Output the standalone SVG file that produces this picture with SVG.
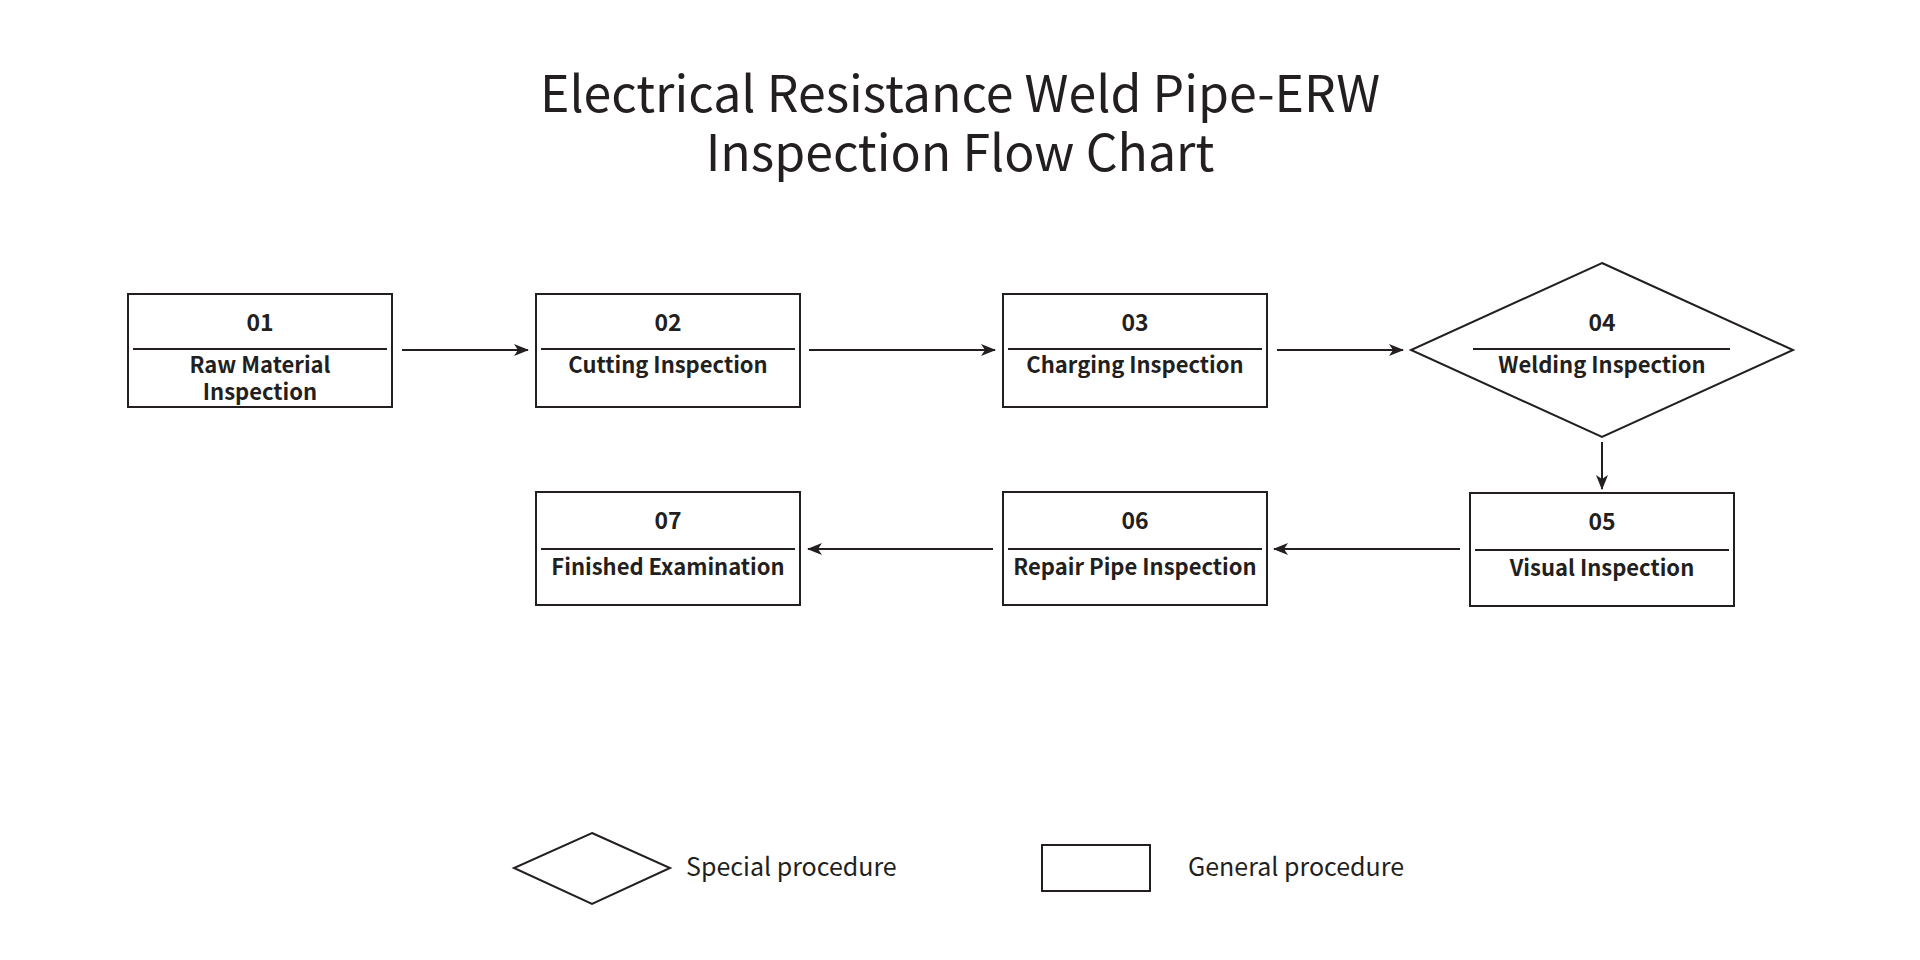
<svg xmlns="http://www.w3.org/2000/svg" width="1920" height="960" viewBox="0 0 1920 960">
<defs>
<marker id="arr" viewBox="0 0 15 12" refX="14" refY="6" markerWidth="15" markerHeight="12" markerUnits="userSpaceOnUse" orient="auto">
<path d="M0,0 L15,6 L0,12 L4,6 Z" fill="#231f20"/>
</marker>
<style>
.box{fill:#fff;stroke:#231f20;stroke-width:2}
.div{stroke:#231f20;stroke-width:2}
.num{font-family:"Noto Sans CJK SC","Noto Sans",sans-serif;font-size:23px;font-weight:700;fill:#231f20;text-anchor:middle}
.lbl{font-family:"Noto Sans CJK SC","Noto Sans",sans-serif;font-size:22px;font-weight:700;fill:#231f20;text-anchor:middle}
.ttl{font-family:"Noto Sans CJK SC","Noto Sans",sans-serif;font-size:50px;font-weight:400;fill:#231f20;text-anchor:middle}
.leg{font-family:"Noto Sans CJK SC","Noto Sans",sans-serif;font-size:25px;font-weight:400;fill:#231f20}
.con{stroke:#231f20;stroke-width:2;fill:none;marker-end:url(#arr)}
</style>
</defs>
<rect width="1920" height="960" fill="#fff"/>
<g id="title">
<text class="ttl" x="960" y="112">Electrical Resistance Weld Pipe-ERW</text>
<text class="ttl" x="960" y="171">Inspection Flow Chart</text>
</g>
<g id="n01">
<rect class="box" x="128" y="294" width="264" height="113"/>
<line class="div" x1="133" y1="349" x2="387" y2="349"/>
<text class="num" x="260" y="331">01</text>
<text class="lbl" x="260" y="373">Raw Material</text>
<text class="lbl" x="260" y="400">Inspection</text>
</g>
<g id="n02">
<rect class="box" x="536" y="294" width="264" height="113"/>
<line class="div" x1="541" y1="349" x2="795" y2="349"/>
<text class="num" x="668" y="331">02</text>
<text class="lbl" x="668" y="373">Cutting Inspection</text>
</g>
<g id="n03">
<rect class="box" x="1003" y="294" width="264" height="113"/>
<line class="div" x1="1008" y1="349" x2="1262" y2="349"/>
<text class="num" x="1135" y="331">03</text>
<text class="lbl" x="1135" y="373">Charging Inspection</text>
</g>
<g id="n04">
<polygon class="box" points="1602,263 1793,350 1602,437 1411,350"/>
<line class="div" x1="1473" y1="349" x2="1730" y2="349"/>
<text class="num" x="1602" y="331">04</text>
<text class="lbl" x="1602" y="373">Welding Inspection</text>
</g>
<g id="n05">
<rect class="box" x="1470" y="493" width="264" height="113"/>
<line class="div" x1="1475" y1="550" x2="1729" y2="550"/>
<text class="num" x="1602" y="530">05</text>
<text class="lbl" x="1602" y="576">Visual Inspection</text>
</g>
<g id="n06">
<rect class="box" x="1003" y="492" width="264" height="113"/>
<line class="div" x1="1008" y1="549" x2="1262" y2="549"/>
<text class="num" x="1135" y="529">06</text>
<text class="lbl" x="1135" y="575">Repair Pipe Inspection</text>
</g>
<g id="n07">
<rect class="box" x="536" y="492" width="264" height="113"/>
<line class="div" x1="541" y1="549" x2="795" y2="549"/>
<text class="num" x="668" y="529">07</text>
<text class="lbl" x="668" y="575">Finished Examination</text>
</g>
<g id="connectors">
<line class="con" x1="402" y1="350" x2="528" y2="350"/>
<line class="con" x1="809" y1="350" x2="995" y2="350"/>
<line class="con" x1="1277" y1="350" x2="1403" y2="350"/>
<line class="con" x1="1602" y1="442" x2="1602" y2="489"/>
<line class="con" x1="1460" y1="549" x2="1274" y2="549"/>
<line class="con" x1="993" y1="549" x2="808" y2="549"/>
</g>
<g id="legend">
<polygon class="box" points="592,833 670,868 592,904 514,868"/>
<text class="leg" x="686" y="876">Special procedure</text>
<rect class="box" x="1042" y="845" width="108" height="46"/>
<text class="leg" x="1188" y="876">General procedure</text>
</g>
</svg>
